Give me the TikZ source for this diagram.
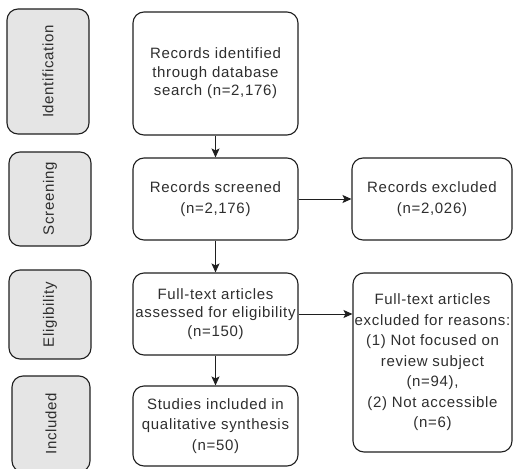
\documentclass[tikz,border=0pt]{standalone}
\usepackage{fontspec}
\setmainfont{Liberation Sans}[LetterSpace=4.5]
\usetikzlibrary{arrows.meta}
\begin{document}
\begin{tikzpicture}[x=1pt,y=-1pt,
  box/.style={draw=black!88, line width=1.1pt, rounded corners=11pt, inner sep=0pt,
    align=center, text=black!82, font=\fontsize{15}{20.5}\selectfont},
  tight/.style={font=\fontsize{15}{18.5}\selectfont},
  phase/.style={box, fill=black!10, rotate=90},
  arr/.style={-{Stealth[length=9pt,width=8pt,inset=2pt]}, line width=1pt, draw=black!88}]
\useasboundingbox (0,0) rectangle (513,468);
% phase labels
\node[phase, minimum width=125pt, minimum height=82pt] (ident) at (48,71.5) {Identification};
\node[phase, minimum width=94pt, minimum height=82pt] (screen) at (50,199) {Screening};
\node[phase, minimum width=89pt, minimum height=82pt] (elig) at (50,314.5) {Eligibility};
\node[phase, minimum width=96pt, minimum height=78pt] (incl) at (51,424) {Included};
% main flow
\node[box, tight, minimum width=165pt, minimum height=123pt] (recid) at (215.5,73.5)
  {Records identified\\through database\\search (n=2,176)};
\node[box, minimum width=165pt, minimum height=82pt] (recscr) at (215.5,199)
  {Records screened\\(n=2,176)};
\node[box, tight, minimum width=165pt, minimum height=82pt] (fulltext) at (215.5,314)
  {Full-text articles\\assessed for eligibility\\(n=150)};
\node[box, minimum width=165pt, minimum height=80pt] (studies) at (215.5,426)
  {Studies included in\\qualitative synthesis\\(n=50)};
% exclusions
\node[box, minimum width=160pt, minimum height=82pt] (recexc) at (432,199)
  {Records excluded\\(n=2,026)};
\node[box, minimum width=159pt, minimum height=179pt] (ftexc) at (432.5,362.5)
  {Full-text articles\\excluded for reasons:\\(1) Not focused on\\review subject\\(n=94),\\(2) Not accessible\\(n=6)};
% connectors
\draw[arr] (recid) -- (recscr);
\draw[arr] (recscr) -- (fulltext);
\draw[arr] (fulltext) -- (studies);
\draw[arr] (recscr) -- (recexc);
\draw[arr] (fulltext.east) -- (fulltext.east -| ftexc.west);
\end{tikzpicture}
\end{document}
